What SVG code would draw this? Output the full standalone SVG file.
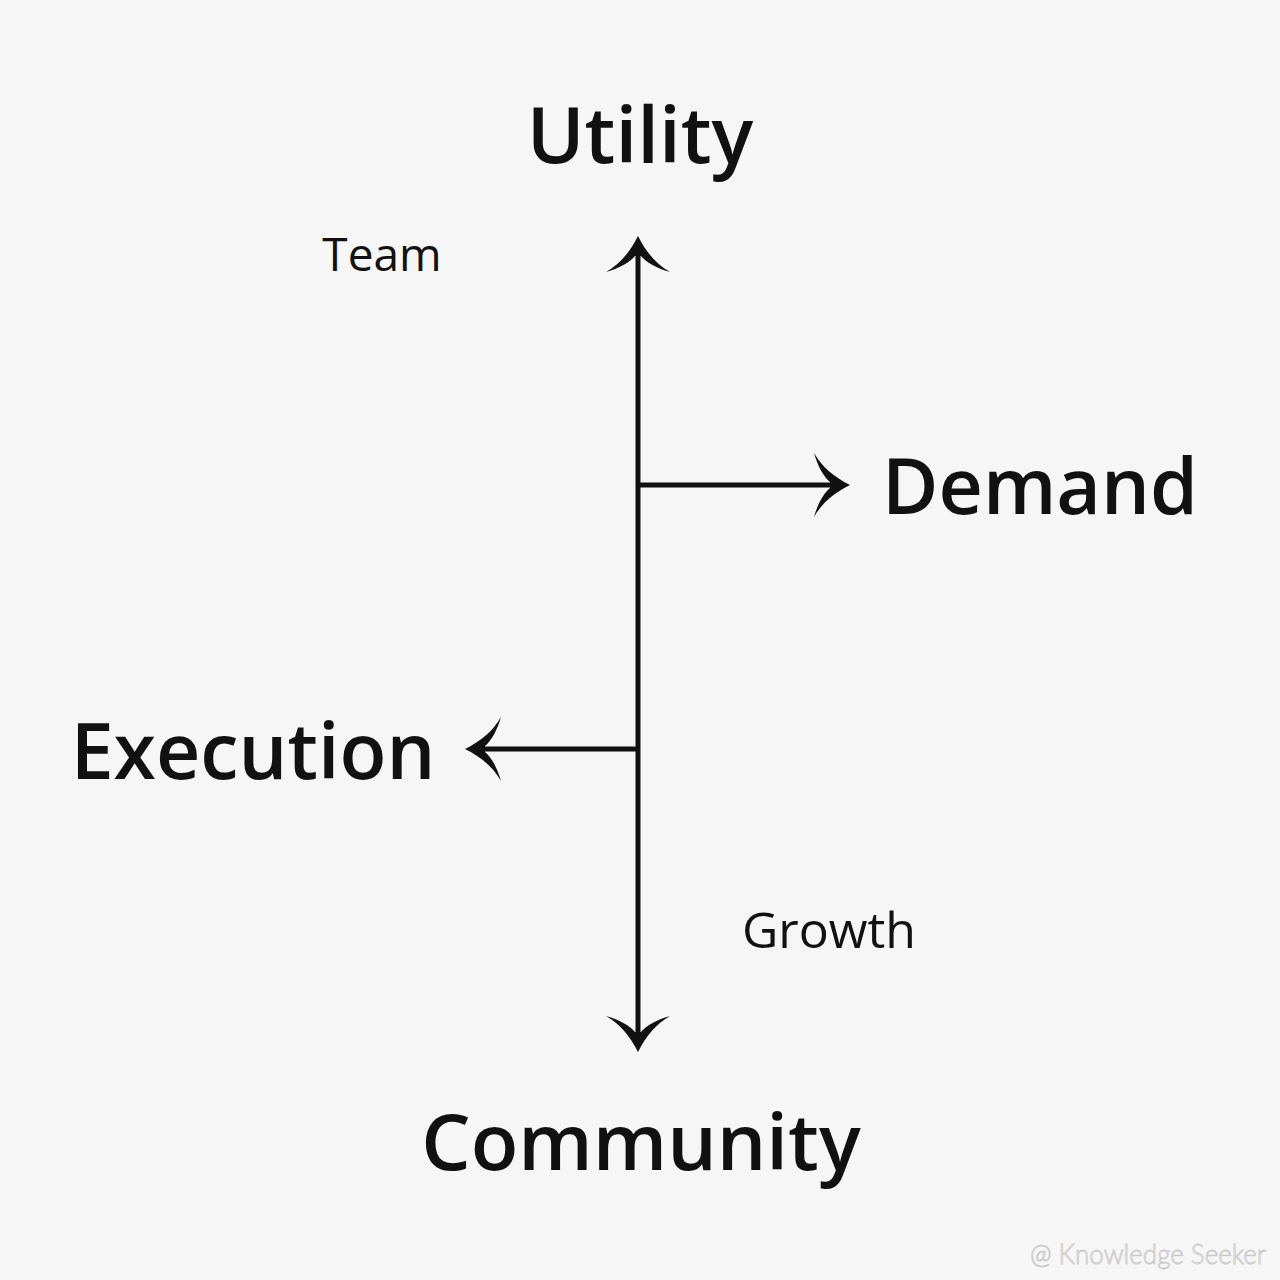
<svg xmlns="http://www.w3.org/2000/svg" width="1280" height="1280" viewBox="0 0 1280 1280">
<defs>
<style>
.big{font-family:"Open Sans","Noto Sans",sans-serif;font-weight:600;fill:#111}
.small{font-family:"Open Sans","Noto Sans",sans-serif;font-weight:500;fill:#111}
.line{stroke:#111;stroke-width:5;fill:none}
.head{fill:#111;stroke:none}
.wm{font-family:"Lato","Open Sans",sans-serif;font-weight:300;fill:#f6f6f6;stroke:#c8c8c8;stroke-width:0.8}
</style>
</defs>
<rect width="1280" height="1280" fill="#f6f6f6"/>
<g id="connectors">
<line class="line" x1="638" y1="250" x2="638" y2="1040"/>
<path class="head" d="M638,236 C646,252 656,264 670,272 C656,268 646,262 641,256 L635,256 C630,262 620,268 606,272 C620,264 630,252 638,236 Z"/>
<path class="head" d="M638,1052 C646,1036 656,1024 670,1016 C656,1020 646,1026 641,1032 L635,1032 C630,1026 620,1020 606,1016 C620,1024 630,1036 638,1052 Z"/>
<line class="line" x1="638" y1="485" x2="836" y2="485"/>
<path class="head" d="M850,485 C834,493 822,503 814,517 C818,503 824,493 830,488 L830,482 C824,477 818,467 814,453 C822,467 834,477 850,485 Z"/>
<line class="line" x1="638" y1="749" x2="480" y2="749"/>
<path class="head" d="M465,749 C481,757 493,767 501,781 C497,767 491,757 485,752 L485,746 C491,741 497,731 501,717 C493,731 481,741 465,749 Z"/>
</g>
<g id="utility"><text class="big" x="640" y="163" font-size="78" text-anchor="middle">Utility</text></g>
<g id="team"><text class="small" x="382" y="271" font-size="46" text-anchor="middle">Team</text></g>
<g id="demand"><text class="big" x="1040" y="514" font-size="77" text-anchor="middle">Demand</text></g>
<g id="execution"><text class="big" x="253" y="779" font-size="77" text-anchor="middle">Execution</text></g>
<g id="growth"><text class="small" x="829" y="948" font-size="50" text-anchor="middle">Growth</text></g>
<g id="community"><text class="big" x="641" y="1170" font-size="78" text-anchor="middle">Community</text></g>
<g id="watermark"><text class="wm" x="1030" y="1264" font-size="27" textLength="236" lengthAdjust="spacingAndGlyphs">@ Knowledge Seeker</text></g>
</svg>
